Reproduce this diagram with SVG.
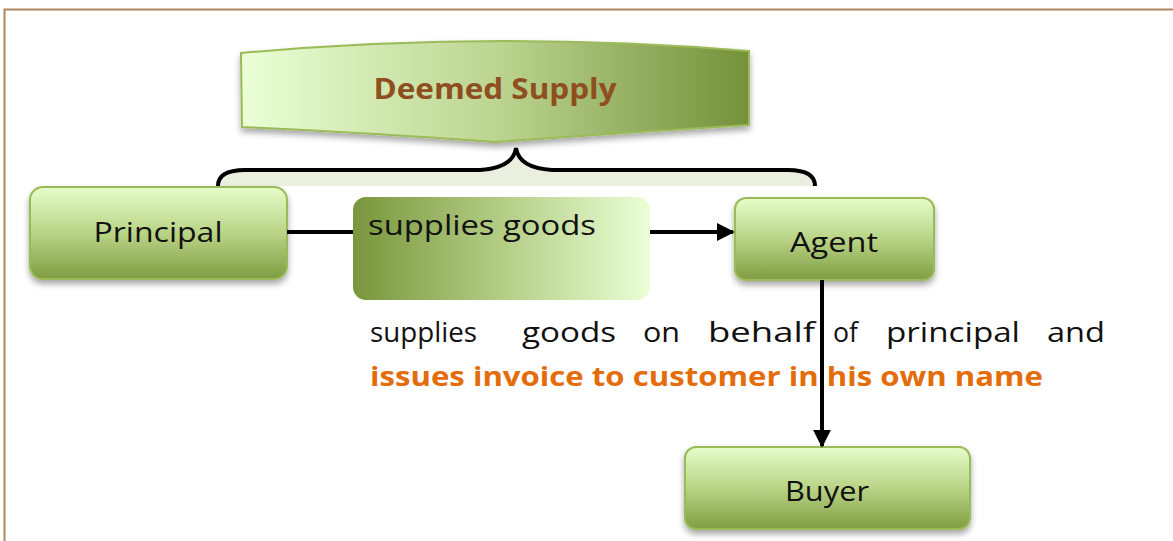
<svg xmlns="http://www.w3.org/2000/svg" width="1173" height="541" viewBox="0 0 1173 541">
<defs>
<linearGradient id="gBox" x1="0" y1="0" x2="0" y2="1">
<stop offset="0" stop-color="#e6fdcb"/>
<stop offset="0.5" stop-color="#b9d486"/>
<stop offset="1" stop-color="#7f9d42"/>
</linearGradient>
<linearGradient id="gBanner" x1="0" y1="0" x2="1" y2="0">
<stop offset="0" stop-color="#eaffd6"/>
<stop offset="0.5" stop-color="#bcd591"/>
<stop offset="1" stop-color="#74913a"/>
</linearGradient>
<linearGradient id="gMid" x1="0" y1="0" x2="1" y2="0">
<stop offset="0" stop-color="#78963c"/>
<stop offset="0.5" stop-color="#b4cd85"/>
<stop offset="1" stop-color="#eaffd6"/>
</linearGradient>
<filter id="sh" x="-10%" y="-10%" width="120%" height="140%">
<feDropShadow dx="0" dy="4" stdDeviation="3" flood-color="#000" flood-opacity="0.35"/>
</filter>
<marker id="arr" viewBox="0 0 10 10" refX="9" refY="5" markerWidth="4.5" markerHeight="4.5" orient="auto" markerUnits="strokeWidth">
<path d="M0,0 L10,5 L0,10 z" fill="#000"/>
</marker>
<style>
.box{fill:url(#gBox);stroke:#9bbb59;stroke-width:2;filter:url(#sh)}
.lbl{font-family:"Open Sans","Liberation Sans",sans-serif;font-size:27px;fill:#111;text-anchor:middle}
.con{stroke:#000;stroke-width:4;fill:none}
.para{font-family:"Open Sans","Liberation Sans",sans-serif;font-size:27px;fill:#111}
.bold{font-family:"Open Sans","Liberation Sans",sans-serif;font-size:27px;font-weight:bold;fill:#e46c0a}
</style>
</defs>
<rect width="1173" height="541" fill="#fff"/>
<path d="M4.5,541 V9.5 H1173" fill="none" stroke="#b08560" stroke-width="2"/>

<g id="banner">
<path d="M241,53 Q495,30 749,51 L749,125 Q620,133 495,142 Q370,133 242,127 Z" fill="url(#gBanner)" stroke="#9bbb59" stroke-width="2" filter="url(#sh)"/>
<text x="495" y="99" text-anchor="middle" font-family="'Open Sans','Liberation Sans',sans-serif" font-size="28" font-weight="bold" fill="#8f4e20" textLength="243" lengthAdjust="spacingAndGlyphs">Deemed Supply</text>
</g>

<g id="brace">
<path d="M218,186 Q218,170 245,170 L480,170 Q513,168 516,148 Q519,168 552,170 L788,170 Q815,170 815,186 Z" fill="#ebefdf" stroke="none"/>
<path d="M218,186 Q218,170 245,170 L480,170 Q513,168 516,148 Q519,168 552,170 L788,170 Q815,170 815,186" fill="none" stroke="#000" stroke-width="4"/>
</g>

<g id="principal">
<rect class="box" x="30" y="187" width="257" height="92" rx="13"/>
<text class="lbl" x="158" y="242" textLength="129" lengthAdjust="spacingAndGlyphs">Principal</text>
</g>

<g id="supplies-goods">
<rect x="353" y="197" width="297" height="103" rx="13" fill="url(#gMid)"/>
<text class="para" x="368" y="235" textLength="228" lengthAdjust="spacingAndGlyphs">supplies goods</text>
</g>

<g id="agent">
<rect class="box" x="735" y="198" width="199" height="82" rx="11"/>
<text class="lbl" x="834" y="252" textLength="88" lengthAdjust="spacingAndGlyphs">Agent</text>
</g>

<g id="buyer">
<rect class="box" x="685" y="447" width="285" height="82" rx="11"/>
<text class="lbl" x="827" y="501" textLength="84" lengthAdjust="spacingAndGlyphs">Buyer</text>
</g>

<g id="description">
<text class="para" x="370" y="342" textLength="107" lengthAdjust="spacingAndGlyphs">supplies</text>
<text class="para" x="522" y="342" textLength="94" lengthAdjust="spacingAndGlyphs">goods</text>
<text class="para" x="643" y="342" textLength="37" lengthAdjust="spacingAndGlyphs">on</text>
<text class="para" x="708" y="342" textLength="107" lengthAdjust="spacingAndGlyphs">behalf</text>
<text class="para" x="833" y="342" textLength="25" lengthAdjust="spacingAndGlyphs">of</text>
<text class="para" x="886" y="342" textLength="134" lengthAdjust="spacingAndGlyphs">principal</text>
<text class="para" x="1047" y="342" textLength="58" lengthAdjust="spacingAndGlyphs">and</text>
<text class="bold" x="370" y="386" textLength="673" lengthAdjust="spacingAndGlyphs">issues invoice to customer in his own name</text>
</g>

<g id="connectors">
<line class="con" x1="287" y1="232" x2="353" y2="232"/>
<line class="con" x1="650" y1="232" x2="733" y2="232" marker-end="url(#arr)"/>
<line class="con" x1="822" y1="280" x2="822" y2="446" marker-end="url(#arr)"/>
</g>
</svg>
